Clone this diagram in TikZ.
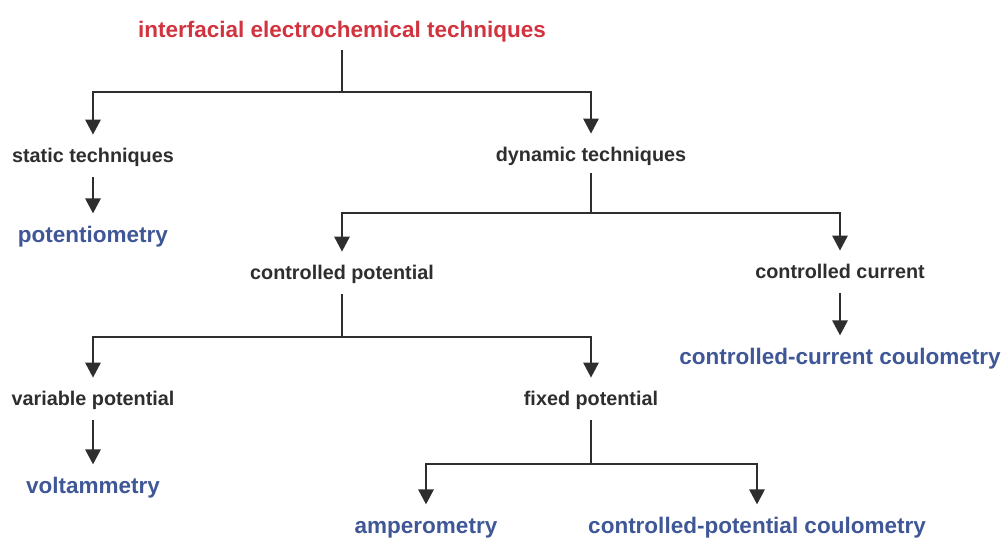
\documentclass[tikz,border=0pt]{standalone}
\usepackage{fontspec}
\setmainfont{Liberation Sans}
\usetikzlibrary{arrows.meta}
\definecolor{headred}{HTML}{D2343F}
\definecolor{methblue}{HTML}{3F5797}
\definecolor{inkgray}{HTML}{2E2E2E}
\tikzset{
  head/.style={inner sep=2pt,text height=16.2pt,text depth=4.7pt,text=headred,font=\fontsize{22.5}{26}\selectfont\bfseries},
  cat/.style={inner sep=2pt,text height=14.3pt,text depth=4.2pt,text=inkgray,font=\fontsize{19.8}{23}\selectfont\bfseries},
  meth/.style={inner sep=2pt,text height=16.2pt,text depth=4.7pt,text=methblue,font=\fontsize{22.5}{26}\selectfont\bfseries},
  wire/.style={draw=inkgray,line width=1.6pt},
  stem/.style={wire,shorten <=9pt},
  drop/.style={wire,-{Triangle[width=15.5pt,length=15pt]},shorten >=11pt},
}
\begin{document}
\begin{tikzpicture}[x=1pt,y=-1pt]
            \useasboundingbox (0,0) rectangle (1003,540);
            \node[head] at (342,32) (title) {interfacial electrochemical techniques};
            \node[cat] at (93,157) (static) {static techniques};
            \node[cat] at (591,156) (dynamic) {dynamic techniques};
            \node[meth] at (93,237) (potentio) {potentiometry};
            \node[cat] at (342,274) (ctrlpot) {controlled potential};
            \node[cat] at (840,273) (ctrlcur) {controlled current};
            \node[meth] at (840,359) (ccc) {controlled-current coulometry};
            \node[cat] at (93,400) (varpot) {variable potential};
            \node[cat] at (591,400) (fixpot) {fixed potential};
            \node[meth] at (93,488) (volt) {voltammetry};
            \node[meth] at (426,528) (ampero) {amperometry};
            \node[meth] at (757,528) (cpc) {controlled-potential coulometry};
            \coordinate (j1) at (342,92);
            \coordinate (j2) at (591,213);
            \coordinate (j3) at (342,337);
            \coordinate (j4) at (591,464);
            % top split
            \draw[stem,shorten <=5pt] (title) -- (j1);
            \draw[drop] (j1) -| (static);
            \draw[drop] (j1) -| (dynamic);
            \draw[stem,drop] (static) -- (potentio);
            % dynamic branch
            \draw[stem,shorten <=6pt] (dynamic) -- (j2);
            \draw[drop] (j2) -| (ctrlpot);
            \draw[drop] (j2) -| (ctrlcur);
            \draw[stem,drop] (ctrlcur) -- (ccc);
            \draw[stem] (ctrlpot) -- (j3);
            \draw[drop] (j3) -| (varpot);
            \draw[drop] (j3) -| (fixpot);
            \draw[stem,drop] (varpot) -- (volt);
            \draw[stem] (fixpot) -- (j4);
            \draw[drop] (j4) -| (ampero);
            \draw[drop] (j4) -| (cpc);
          \end{tikzpicture}
\end{document}
